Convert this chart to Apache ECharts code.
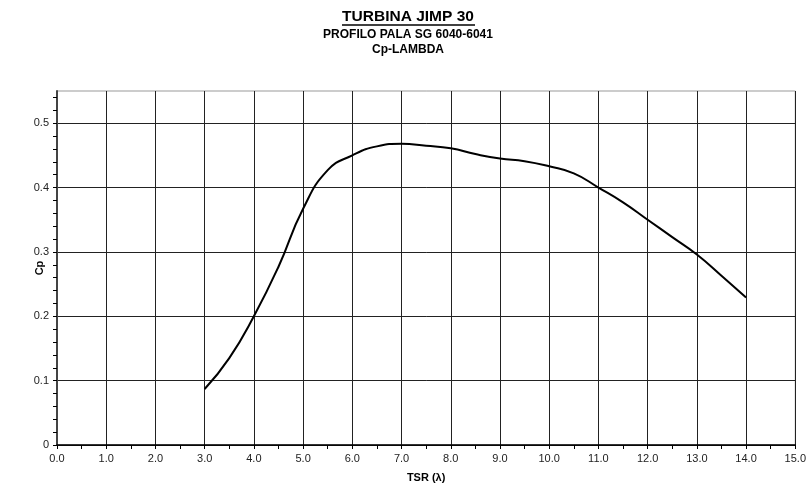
<!DOCTYPE html>
<html>
<head>
<meta charset="utf-8">
<script src="https://cdn.jsdelivr.net/npm/echarts@6/dist/echarts.min.js"></script>
<style>
  html, body { margin: 0; padding: 0; background: #fff; }
  #chart { width: 809px; height: 488px; }
</style>
</head>
<body>
<div id="chart"></div>
<script>
  // curve, every 0.5 of TSR
  var tsr = [3.0, 3.5, 4.0, 4.5, 5.0, 5.5, 6.0, 6.5, 7.0, 7.5, 8.0, 8.5,
             9.0, 9.5, 10.0, 10.5, 11.0, 11.5, 12.0, 12.5, 13.0, 13.5, 14.0];
  var cp = [0.087, 0.135, 0.200, 0.277, 0.367, 0.427, 0.450, 0.464, 0.468, 0.465, 0.461, 0.452,
            0.445, 0.441, 0.433, 0.422, 0.400, 0.377, 0.350, 0.323, 0.296, 0.263, 0.229];

  var yTicks = [0, 0.02, 0.04, 0.06, 0.08, 0.1, 0.12, 0.14, 0.16, 0.18, 0.2, 0.22, 0.24, 0.26,
                0.28, 0.3, 0.32, 0.34, 0.36, 0.38, 0.4, 0.42, 0.44, 0.46, 0.48, 0.5, 0.52, 0.54];

  var titleText = 'TURBINA JIMP 30';
  var subText1 = 'PROFILO PALA SG 6040-6041';
  var subText2 = 'Cp-LAMBDA';

  var font = '"Liberation Sans", Arial, sans-serif';

  var points = [];
  for (var i = 0; i < tsr.length; i++) {
    points.push([tsr[i], cp[i]]);
  }

  var myChart = echarts.init(document.getElementById('chart'), null, {renderer: 'canvas'});
  var option = {
    backgroundColor: '#fff',
    animation: false,
    graphic: [
      {
        type: 'text', x: 408, y: 17,
        style: {text: titleText, font: 'bold 15.5px ' + font, fill: '#000',
                textAlign: 'center', textVerticalAlign: 'middle'}
      },
      {
        type: 'line',
        shape: {x1: 342, y1: 25, x2: 475, y2: 25},
        style: {stroke: '#000', lineWidth: 1.5}
      },
      {
        type: 'text', x: 408, y: 35,
        style: {text: subText1, font: 'bold 12px ' + font, fill: '#000',
                textAlign: 'center', textVerticalAlign: 'middle'}
      },
      {
        type: 'text', x: 408, y: 50,
        style: {text: subText2, font: 'bold 12px ' + font, fill: '#000',
                textAlign: 'center', textVerticalAlign: 'middle'}
      }
    ],
    grid: {
      left: 57,
      right: 11,
      top: 91,
      bottom: 42,
      show: true,
      borderColor: '#999',
      borderWidth: 1,
      containLabel: false
    },
    xAxis: {
      type: 'value',
      min: 0,
      max: 15,
      interval: 1,
      name: 'TSR (λ)',
      nameLocation: 'middle',
      nameGap: 27,
      nameTextStyle: {fontFamily: font, fontWeight: 'bold', fontSize: 11, color: '#000'},
      axisLine: {onZero: false, lineStyle: {color: '#000', width: 1.5}},
      axisTick: {show: true, inside: false, length: 4, lineStyle: {color: '#000', width: 1}},
      minorTick: {show: true, splitNumber: 2, length: 4, lineStyle: {color: '#000', width: 1}},
      axisLabel: {
        fontFamily: font, fontSize: 11, color: '#222', margin: 8,
        formatter: function (v) { return v.toFixed(1); }
      },
      splitLine: {show: true, lineStyle: {color: '#222', width: 1}}
    },
    yAxis: [
      {
        type: 'value',
        min: 0,
        max: 0.55,
        interval: 0.1,
        name: 'Cp',
        nameLocation: 'middle',
        nameRotate: 90,
        nameGap: 12,
        nameMoveOverlap: false,
        nameTextStyle: {fontFamily: font, fontWeight: 'bold', fontSize: 11, color: '#000'},
        axisLine: {onZero: false, lineStyle: {color: '#444', width: 2}},
        axisTick: {show: false},
        axisLabel: {
          fontFamily: font, fontSize: 11, color: '#222', margin: 8,
          showMaxLabel: false,
          formatter: function (v) { return v === 0 ? '0' : v.toFixed(1); }
        },
        splitLine: {show: true, showMaxLine: false, lineStyle: {color: '#222', width: 1}}
      },
      {
        // second axis only carries the small ticks every 0.02
        type: 'value',
        position: 'left',
        offset: 0,
        min: 0,
        max: 0.55,
        interval: 0.1,
        axisLine: {show: false},
        axisTick: {show: true, inside: false, length: 4, customValues: yTicks,
                   lineStyle: {color: '#000', width: 1}},
        axisLabel: {show: false},
        splitLine: {show: false}
      }
    ],
    series: [
      {
        name: 'Cp',
        type: 'line',
        data: points,
        smooth: 0.5,
        showSymbol: false,
        symbol: 'none',
        lineStyle: {color: '#000', width: 2},
        z: 5
      }
    ]
  };
  myChart.setOption(option);
</script>
</body>
</html>
